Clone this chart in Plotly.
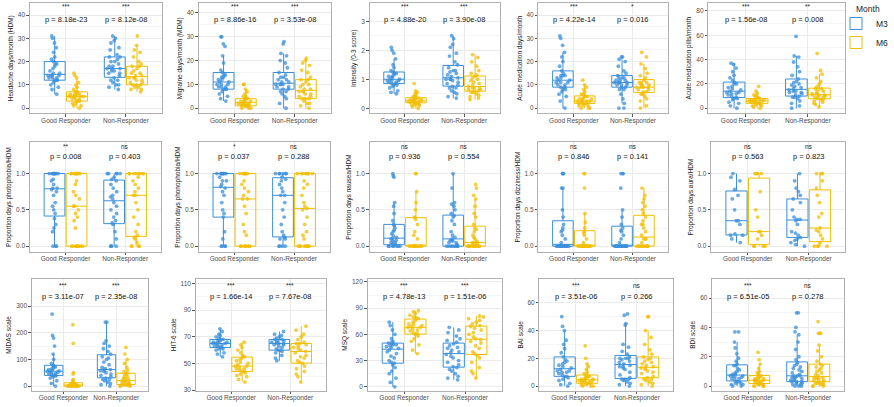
import plotly.graph_objects as go

# ---------------- data ----------------
CATS = ["Good Responder", "Non-Responder"]
MONTHS = ["M3", "M6"]

hdm_gr_m3 = [6, 8, 9, 10, 11, 12, 12, 12, 13, 13, 13, 14, 14, 14, 14, 15, 15, 16, 17, 18, 19, 19, 20, 21, 22, 24, 26, 28, 30, 31]
hdm_gr_m6 = [0, 1, 1, 2, 2, 3, 3, 3, 4, 4, 4, 5, 5, 5, 5, 5, 5, 6, 6, 6, 6, 7, 7, 8, 9, 10, 11, 13, 14, 15]
hdm_nr_m3 = [8, 9, 10, 10, 11, 12, 12, 13, 14, 15, 15, 16, 16, 17, 17, 17, 18, 18, 19, 20, 20, 21, 22, 22, 23, 25, 26, 28, 29, 30, 31]
hdm_nr_m6 = [7, 8, 8, 9, 9, 10, 10, 10, 11, 11, 12, 12, 13, 13, 13, 14, 14, 15, 15, 16, 17, 18, 18, 19, 20, 22, 24, 25, 27, 31]

mdm_gr_m3 = [3, 4, 5, 6, 7, 8, 8, 8, 9, 9, 9, 10, 10, 10, 11, 11, 12, 12, 13, 13, 14, 14, 15, 16, 19, 22, 26, 27, 30, 30]
mdm_gr_m6 = [0, 0, 0, 1, 1, 1, 1, 1, 2, 2, 2, 2, 2, 2, 2, 3, 3, 3, 3, 4, 4, 4, 4, 5, 5, 6, 7, 8, 10, 10]
mdm_nr_m3 = [0, 2, 4, 5, 6, 7, 7, 8, 8, 9, 9, 10, 10, 10, 10, 11, 11, 12, 12, 13, 13, 14, 15, 17, 19, 20, 22, 23, 27, 28]
mdm_nr_m6 = [0, 1, 2, 2, 3, 4, 4, 4, 5, 5, 6, 6, 7, 7, 7, 8, 8, 9, 10, 10, 11, 12, 12, 13, 15, 16, 18, 19, 20, 21]

int_gr_m3 = [0.5, 0.55, 0.6, 0.7, 0.75, 0.8, 0.8, 0.85, 0.85, 0.9, 0.9, 0.95, 0.95, 0.95, 1.0, 1.0, 1.05, 1.1, 1.1, 1.15, 1.2, 1.2, 1.25, 1.3, 1.4, 1.5, 1.7, 1.9, 2.0, 2.1]
int_gr_m6 = [0.0, 0.05, 0.1, 0.1, 0.15, 0.15, 0.15, 0.2, 0.2, 0.2, 0.2, 0.25, 0.25, 0.25, 0.25, 0.3, 0.3, 0.3, 0.3, 0.35, 0.35, 0.35, 0.4, 0.4, 0.45, 0.5, 0.55, 0.6, 0.85]
int_nr_m3 = [0.35, 0.4, 0.5, 0.55, 0.6, 0.7, 0.7, 0.75, 0.8, 0.85, 0.9, 0.95, 1.0, 1.0, 1.0, 1.05, 1.1, 1.15, 1.2, 1.25, 1.3, 1.3, 1.4, 1.5, 1.6, 1.8, 1.9, 2.1, 2.2, 2.4, 2.5]
int_nr_m6 = [0.3, 0.35, 0.4, 0.45, 0.5, 0.55, 0.55, 0.6, 0.6, 0.65, 0.65, 0.7, 0.7, 0.7, 0.75, 0.8, 0.85, 0.9, 0.95, 1.0, 1.05, 1.1, 1.15, 1.2, 1.3, 1.45, 1.6, 1.75, 1.85]

amd_gr_m3 = [0, 3, 5, 6, 7, 8, 8, 9, 9, 10, 10, 11, 11, 11, 12, 12, 13, 13, 14, 14, 14, 15, 16, 18, 20, 22, 24, 27, 30, 31]
amd_gr_m6 = [0, 0, 0, 1, 1, 1, 2, 2, 2, 2, 3, 3, 3, 3, 3, 4, 4, 4, 4, 5, 5, 5, 6, 6, 7, 8, 9, 10, 12]
amd_nr_m3 = [0, 0, 2, 4, 6, 8, 8, 9, 9, 10, 10, 10, 11, 11, 11, 11, 12, 12, 12, 13, 13, 13, 14, 15, 16, 18, 20, 21, 22, 22]
amd_nr_m6 = [0, 1, 3, 4, 5, 6, 6, 7, 7, 8, 8, 9, 9, 9, 9, 10, 10, 10, 11, 11, 11, 12, 13, 14, 15, 17, 19, 22, 24]

amp_gr_m3 = [0, 2, 4, 5, 7, 8, 8, 9, 10, 11, 12, 12, 13, 13, 14, 15, 16, 17, 18, 20, 20, 21, 23, 25, 27, 30, 33, 36, 37]
amp_gr_m6 = [0, 1, 2, 2, 3, 3, 4, 4, 5, 5, 5, 6, 6, 6, 6, 7, 7, 7, 8, 8, 8, 9, 10, 11, 12, 14, 18]
amp_nr_m3 = [0, 2, 4, 6, 8, 9, 9, 10, 11, 12, 13, 13, 14, 14, 15, 16, 17, 18, 19, 20, 21, 22, 24, 27, 30, 34, 38, 42, 43, 59]
amp_nr_m6 = [1, 3, 4, 5, 6, 7, 7, 8, 9, 9, 10, 10, 11, 11, 11, 12, 12, 13, 14, 15, 16, 16, 18, 20, 22, 25, 28, 31, 45]

pho_gr_m3 = [0, 0, 0, 0.2, 0.25, 0.3, 0.38, 0.45, 0.5, 0.55, 0.6, 0.7, 0.75, 0.78, 0.8, 0.8, 0.85, 0.9, 0.92, 1, 1, 1, 1, 1, 1, 1, 1, 1]
pho_gr_m6 = [0, 0, 0, 0, 0, 0, 0, 0, 0.25, 0.35, 0.4, 0.45, 0.5, 0.55, 0.55, 0.65, 0.7, 0.75, 0.85, 0.9, 1, 1, 1, 1, 1, 1, 1, 1, 1]
pho_nr_m3 = [0, 0, 0, 0, 0.1, 0.2, 0.3, 0.32, 0.35, 0.4, 0.45, 0.5, 0.55, 0.6, 0.65, 0.68, 0.7, 0.75, 0.8, 0.85, 0.9, 0.92, 0.95, 1, 1, 1, 1, 1]
pho_nr_m6 = [0, 0, 0, 0, 0.05, 0.1, 0.12, 0.15, 0.2, 0.3, 0.4, 0.5, 0.6, 0.7, 0.7, 0.75, 0.8, 0.85, 0.9, 0.95, 1, 1, 1, 1, 1, 1, 1, 1]

phn_gr_m3 = [0, 0, 0, 0, 0.1, 0.2, 0.4, 0.45, 0.5, 0.6, 0.7, 0.75, 0.8, 0.82, 0.85, 0.9, 0.9, 0.95, 1, 1, 1, 1, 1, 1, 1, 1]
phn_gr_m6 = [0, 0, 0, 0, 0, 0, 0, 0.15, 0.2, 0.3, 0.45, 0.55, 0.65, 0.65, 0.7, 0.75, 0.8, 0.85, 0.9, 1, 1, 1, 1, 1, 1, 1]
phn_nr_m3 = [0, 0, 0, 0, 0.1, 0.1, 0.12, 0.15, 0.2, 0.3, 0.4, 0.5, 0.6, 0.7, 0.7, 0.75, 0.8, 0.85, 0.9, 0.92, 0.95, 1, 1, 1, 1, 1, 1]
phn_nr_m6 = [0, 0, 0, 0, 0, 0, 0, 0, 0.1, 0.15, 0.2, 0.3, 0.4, 0.5, 0.52, 0.55, 0.6, 0.7, 0.8, 0.85, 0.9, 1, 1, 1, 1, 1, 1, 1, 1]

nau_gr_m3 = [0, 0, 0, 0, 0, 0, 0, 0.02, 0.03, 0.05, 0.05, 0.07, 0.08, 0.1, 0.1, 0.12, 0.14, 0.17, 0.2, 0.22, 0.25, 0.28, 0.3, 0.35, 0.45, 0.55, 0.6, 0.95, 0.97, 1.0]
nau_gr_m6 = [0, 0, 0, 0, 0, 0, 0, 0, 0, 0, 0, 0, 0.1, 0.15, 0.2, 0.3, 0.37, 0.4, 0.5, 0.6, 0.75, 1, 1]
nau_nr_m3 = [0, 0, 0, 0, 0, 0, 0, 0, 0.02, 0.05, 0.05, 0.07, 0.08, 0.08, 0.1, 0.12, 0.15, 0.2, 0.3, 0.35, 0.4, 0.42, 0.45, 0.5, 0.55, 0.58, 0.6, 0.8, 1.0]
nau_nr_m6 = [0, 0, 0, 0, 0, 0, 0, 0, 0, 0, 0, 0, 0.02, 0.03, 0.05, 0.05, 0.05, 0.07, 0.1, 0.12, 0.15, 0.2, 0.23, 0.25, 0.3, 0.4, 0.45, 0.55, 0.65, 0.7, 0.8, 0.85]

diz_gr_m3 = [0, 0, 0, 0, 0, 0, 0, 0, 0, 0, 0, 0, 0, 0, 0.05, 0.1, 0.15, 0.2, 0.22, 0.25, 0.3, 0.4, 0.5, 0.8, 0.8, 1, 1, 1]
diz_gr_m6 = [0, 0, 0, 0, 0, 0, 0, 0, 0, 0, 0, 0, 0, 0, 0.05, 0.1, 0.15, 0.18, 0.2, 0.25, 0.33, 0.45, 0.8, 1, 1]
diz_nr_m3 = [0, 0, 0, 0, 0, 0, 0, 0, 0, 0, 0, 0, 0, 0, 0, 0.05, 0.1, 0.15, 0.2, 0.22, 0.25, 0.3, 0.4, 0.5, 0.8, 1, 1, 1]
diz_nr_m6 = [0, 0, 0, 0, 0, 0, 0, 0, 0, 0, 0.05, 0.1, 0.1, 0.1, 0.15, 0.2, 0.25, 0.3, 0.3, 0.35, 0.4, 0.45, 0.5, 0.55, 0.6, 0.65, 0.7, 0.8]

aur_gr_m3 = [0.05, 0.1, 0.15, 0.15, 0.17, 0.3, 0.35, 0.35, 0.5, 0.65, 0.7, 0.78, 0.9, 0.95, 1.0]
aur_gr_m6 = [0, 0, 0, 0, 0.1, 0.15, 0.2, 0.2, 0.4, 0.5, 0.75, 1, 1, 1, 1]
aur_nr_m3 = [0, 0.02, 0.05, 0.08, 0.1, 0.12, 0.15, 0.18, 0.2, 0.3, 0.35, 0.37, 0.37, 0.4, 0.5, 0.6, 0.65, 0.7, 0.75, 0.8, 0.9, 1.0]
aur_nr_m6 = [0, 0, 0, 0, 0.05, 0.1, 0.15, 0.2, 0.22, 0.25, 0.4, 0.45, 0.6, 0.7, 0.8, 0.9, 1, 1, 1]

mid_gr_m3 = [0, 10, 20, 30, 35, 38, 40, 40, 42, 45, 48, 50, 52, 55, 55, 57, 60, 62, 65, 68, 72, 75, 78, 85, 100, 120, 150, 180, 190, 270]
mid_gr_m6 = [0, 0, 0, 0, 0, 0, 0, 0, 1, 2, 2, 3, 3, 3, 4, 5, 5, 6, 8, 10, 10, 12, 15, 20, 25, 45, 50, 160, 230]
mid_nr_m3 = [0, 5, 10, 15, 20, 25, 25, 30, 35, 40, 45, 50, 55, 58, 60, 62, 65, 70, 80, 90, 100, 105, 110, 120, 130, 140, 150, 160, 170, 240, 240]
mid_nr_m6 = [0, 0, 0, 2, 3, 5, 5, 6, 8, 10, 12, 15, 18, 20, 20, 22, 25, 28, 30, 35, 40, 45, 48, 55, 60, 70, 85, 100, 120, 145]

hit_gr_m3 = [55, 57, 58, 60, 61, 61, 62, 62, 63, 63, 64, 64, 65, 65, 65, 66, 66, 66, 67, 67, 68, 68, 69, 70, 71, 72, 74, 76]
hit_gr_m6 = [36, 38, 40, 41, 42, 43, 44, 44, 45, 46, 46, 47, 48, 48, 49, 50, 51, 52, 53, 54, 55, 56, 58, 60, 62, 64, 66]
hit_nr_m3 = [52, 54, 56, 58, 59, 60, 60, 61, 62, 63, 64, 64, 65, 65, 65, 66, 66, 67, 67, 68, 68, 69, 70, 71, 72, 74]
hit_nr_m6 = [36, 40, 42, 44, 46, 48, 50, 51, 52, 54, 55, 56, 58, 59, 60, 61, 62, 63, 64, 65, 65, 66, 68, 70, 72, 75, 78]

msq_gr_m3 = [0, 5, 10, 15, 18, 22, 25, 27, 28, 30, 33, 35, 38, 40, 42, 44, 45, 46, 47, 48, 48, 49, 50, 50, 52, 55, 60, 65, 70, 74]
msq_gr_m6 = [38, 42, 48, 52, 55, 58, 60, 61, 62, 64, 65, 66, 68, 68, 69, 70, 71, 72, 74, 76, 78, 79, 80, 82, 84, 86, 87]
msq_nr_m3 = [8, 10, 12, 15, 18, 20, 22, 23, 25, 28, 30, 33, 35, 37, 39, 40, 42, 44, 45, 47, 49, 51, 53, 55, 58, 62, 65, 68]
msq_nr_m6 = [10, 15, 18, 22, 28, 33, 36, 38, 40, 44, 47, 50, 52, 54, 55, 57, 60, 62, 65, 67, 69, 70, 72, 74, 76, 78, 80, 81]

bai_gr_m3 = [0, 1, 2, 4, 5, 6, 7, 7, 8, 9, 10, 10, 11, 11, 12, 13, 14, 15, 16, 17, 18, 19, 21, 24, 27, 30, 33, 40, 43, 50]
bai_gr_m6 = [0, 0, 0, 1, 1, 2, 2, 2, 3, 3, 3, 4, 4, 4, 4, 5, 5, 5, 6, 6, 7, 7, 8, 9, 10, 12, 14, 16, 20, 29]
bai_nr_m3 = [0, 1, 2, 3, 4, 5, 5, 5, 6, 8, 10, 12, 13, 14, 14, 15, 16, 17, 18, 19, 20, 20, 20, 21, 23, 25, 28, 30, 44, 45, 51, 52]
bai_nr_m6 = [0, 1, 2, 3, 4, 5, 5, 6, 7, 9, 10, 11, 12, 13, 13, 14, 15, 16, 17, 18, 19, 20, 21, 23, 26, 30, 35, 40, 50, 50]

bdi_gr_m3 = [0, 0, 1, 1, 2, 2, 3, 3, 4, 5, 5, 6, 6, 7, 7, 7, 8, 8, 9, 10, 11, 12, 14, 14, 15, 17, 19, 22, 26, 30, 37, 37]
bdi_gr_m6 = [0, 0, 0, 0, 1, 1, 1, 2, 2, 3, 3, 3, 4, 4, 4, 5, 5, 5, 6, 6, 7, 7, 8, 9, 10, 12, 15, 18, 23]
bdi_nr_m3 = [0, 0, 0, 1, 1, 2, 2, 3, 3, 3, 4, 4, 5, 5, 6, 6, 7, 7, 7, 8, 9, 10, 11, 12, 13, 14, 15, 16, 18, 20, 25, 30, 35, 37, 40, 50, 50]
bdi_nr_m6 = [0, 0, 0, 1, 1, 2, 2, 2, 3, 3, 4, 4, 5, 5, 6, 6, 6, 7, 8, 9, 10, 11, 12, 13, 14, 15, 17, 20, 24, 28, 36, 36, 36, 44]

y_titles = [
    "Headache days/month (HDM)", "Migraine days/month (MDM)", "Intensity (0-3 score)",
    "Acute medication days/month", "Acute medication pills/month",
    "Proportion days photophobia/HDM", "Proportion days phonophobia/HDM", "Proportion days nausea/HDM",
    "Proportion days dizziness/HDM", "Proportion days aura/HDM",
    "MIDAS scale", "HIT-6 scale", "MSQ scale", "BAI scale", "BDI scale",
]
stars = [
    ["***", "***"], ["***", "***"], ["***", "***"], ["***", "*"], ["***", "**"],
    ["**", "ns"], ["*", "ns"], ["ns", "ns"], ["ns", "ns"], ["ns", "ns"],
    ["***", "***"], ["***", "***"], ["***", "***"], ["***", "ns"], ["***", "ns"],
]
p_labels = [
    ["p = 8.18e-23", "p = 8.12e-08"], ["p = 8.86e-16", "p = 3.53e-08"], ["p = 4.88e-20", "p = 3.90e-08"],
    ["p = 4.22e-14", "p = 0.016"], ["p = 1.56e-08", "p = 0.008"],
    ["p = 0.008", "p = 0.403"], ["p = 0.037", "p = 0.288"], ["p = 0.936", "p = 0.554"],
    ["p = 0.846", "p = 0.141"], ["p = 0.563", "p = 0.823"],
    ["p = 3.11e-07", "p = 2.35e-08"], ["p = 1.66e-14", "p = 7.67e-08"], ["p = 4.78e-13", "p = 1.51e-06"],
    ["p = 3.51e-06", "p = 0.266"], ["p = 6.51e-05", "p = 0.278"],
]
y_ticks = [
    [0, 10, 20, 30, 40], [0, 10, 20, 30, 40], [0, 1, 2, 3], [0, 10, 20, 30, 40], [0, 20, 40, 60, 80],
    [0, 0.5, 1.0], [0, 0.5, 1.0], [0, 0.5, 1.0], [0, 0.5, 1.0], [0, 0.5, 1.0],
    [0, 100, 200, 300], [30, 50, 70, 90, 110], [0, 30, 60, 90, 120], [0, 20, 40, 60], [0, 20, 40, 60],
]
y_ticktext = [
    None, None, None, None, None,
    ["0.0", "0.5", "1.0"], ["0.0", "0.5", "1.0"], ["0.0", "0.5", "1.0"], ["0.0", "0.5", "1.0"], ["0.0", "0.5", "1.0"],
    None, None, None, None, None,
]

panel_data = [
    [[hdm_gr_m3, hdm_gr_m6], [hdm_nr_m3, hdm_nr_m6]],
    [[mdm_gr_m3, mdm_gr_m6], [mdm_nr_m3, mdm_nr_m6]],
    [[int_gr_m3, int_gr_m6], [int_nr_m3, int_nr_m6]],
    [[amd_gr_m3, amd_gr_m6], [amd_nr_m3, amd_nr_m6]],
    [[amp_gr_m3, amp_gr_m6], [amp_nr_m3, amp_nr_m6]],
    [[pho_gr_m3, pho_gr_m6], [pho_nr_m3, pho_nr_m6]],
    [[phn_gr_m3, phn_gr_m6], [phn_nr_m3, phn_nr_m6]],
    [[nau_gr_m3, nau_gr_m6], [nau_nr_m3, nau_nr_m6]],
    [[diz_gr_m3, diz_gr_m6], [diz_nr_m3, diz_nr_m6]],
    [[aur_gr_m3, aur_gr_m6], [aur_nr_m3, aur_nr_m6]],
    [[mid_gr_m3, mid_gr_m6], [mid_nr_m3, mid_nr_m6]],
    [[hit_gr_m3, hit_gr_m6], [hit_nr_m3, hit_nr_m6]],
    [[msq_gr_m3, msq_gr_m6], [msq_nr_m3, msq_nr_m6]],
    [[bai_gr_m3, bai_gr_m6], [bai_nr_m3, bai_nr_m6]],
    [[bdi_gr_m3, bdi_gr_m6], [bdi_nr_m3, bdi_nr_m6]],
]

# ---------------- layout / style ----------------
W, H = 894, 407
FONT = "Liberation Sans, Arial, sans-serif"
COLORS = {"M3": "#3A8FDB", "M6": "#F2BE00"}
MARKER = {"M3": "rgba(58,143,219,0.75)", "M6": "rgba(242,190,0,0.75)"}

y_ranges = [
    [-2.3, 45.2], [-2.2, 44.2], [-0.18, 3.63], [-2.3, 45.2], [-4.3, 86.5],
    [-0.077, 1.43], [-0.077, 1.43], [-0.077, 1.43], [-0.077, 1.43], [-0.077, 1.43],
    [-18.6, 403], [29.25, 113.7], [-4.9, 123.8], [-3.6, 77.4], [-3.4, 73.3],
]
x_px = [
    [(30, 163), (200, 333), (372, 503), (542, 673), (713, 851)],
    [(30, 162), (200, 332), (372, 503), (542, 673), (716, 851)],
    [(32, 149), (197, 328), (370, 505), (543, 678), (717, 850)],
]
y_px = [(3, 114), (143, 253), (280, 393)]
star_y = [0.972, 0.965, 0.94]
p_y = [0.847, 0.87, 0.84]

fig = go.Figure()
layout = {}
annotations = []
for i in range(15):
    row, col = divmod(i, 5)
    sfx = "" if i == 0 else str(i + 1)
    for m_idx, m in enumerate(MONTHS):
        xs, ys = [], []
        for c_idx, c in enumerate(CATS):
            vals = panel_data[i][c_idx][m_idx]
            xs += [c] * len(vals)
            ys += vals
        fig.add_trace(go.Box(
            x=xs, y=ys, name=m, legendgroup=m, showlegend=(i == 0), offsetgroup=m,
            xaxis="x" + sfx, yaxis="y" + sfx,
            boxpoints="all", jitter=0.75, pointpos=0,
            marker=dict(color=MARKER[m], size=3.8),
            line=dict(color=COLORS[m], width=1),
            fillcolor="rgba(255,255,255,0)",
            whiskerwidth=0,
        ))
    x0, x1 = x_px[row][col]
    yt, yb = y_px[row]
    ticks = y_ticks[i]
    minor_vals = [(a + b) / 2 for a, b in zip(ticks[:-1], ticks[1:])]
    layout["xaxis" + sfx] = dict(
        domain=[x0 / W, x1 / W], anchor="y" + sfx, type="category",
        categoryorder="array", categoryarray=CATS, range=[-0.6, 1.6],
        showline=True, mirror=True, linecolor="#b0b0b0", linewidth=0.8,
        showgrid=True, gridcolor="#ebebeb", gridwidth=0.6, zeroline=False,
        ticks="outside", ticklen=2.5, tickcolor="#555555", tickwidth=0.6,
        ticklabelstandoff=-2,
        tickfont=dict(size=6.5, color="#4d4d4d", family=FONT),
    )
    layout["yaxis" + sfx] = dict(
        domain=[1 - yb / H, 1 - yt / H], anchor="x" + sfx,
        range=y_ranges[i], tickmode="array", tickvals=ticks,
        ticktext=y_ticktext[i] if y_ticktext[i] else [str(t) for t in ticks],
        showline=True, mirror=True, linecolor="#b0b0b0", linewidth=0.8,
        showgrid=True, gridcolor="#ebebeb", gridwidth=0.6, zeroline=False,
        minor=dict(tickmode="array", tickvals=minor_vals, showgrid=True, gridcolor="#f5f5f5", gridwidth=0.5, ticks=""),
        ticks="outside", ticklen=2.5, tickcolor="#555555", tickwidth=0.6,
        tickfont=dict(size=6.5, color="#4d4d4d", family=FONT),
        title=dict(text=y_titles[i], font=dict(size=6.5, color="#1a1a1a", family=FONT), standoff=3),
    )
    for c_idx, c in enumerate(CATS):
        annotations.append(dict(
            xref="x" + sfx, yref="y" + sfx + " domain", x=c, y=star_y[row],
            text=stars[i][c_idx], showarrow=False, yanchor="middle",
            font=dict(size=6.5, color="#222222", family=FONT),
        ))
        annotations.append(dict(
            xref="x" + sfx, yref="y" + sfx + " domain", x=c, y=p_y[row],
            text=p_labels[i][c_idx], showarrow=False, yanchor="middle",
            font=dict(size=7.5, color="#111111", family=FONT),
        ))

# legend title drawn as text above the legend keys
annotations.append(dict(
    xref="paper", yref="paper", x=860 / W, y=1 - 9 / H, xanchor="left", yanchor="middle",
    text="Month", showarrow=False, font=dict(size=8.5, color="#222222", family=FONT),
))

fig.update_layout(
    width=W, height=H, margin=dict(l=0, r=0, t=0, b=0),
    paper_bgcolor="white", plot_bgcolor="white",
    boxmode="group", boxgap=0.26, boxgroupgap=0.06,
    font=dict(family=FONT, size=7),
    annotations=annotations,
    legend=dict(
        x=842 / W, y=1 - 9 / H, xanchor="left", yanchor="top",
        font=dict(size=8.5, color="#222222"), bgcolor="rgba(0,0,0,0)",
        tracegroupgap=0, itemwidth=30,
    ),
    showlegend=True,
    **layout,
)

fig.write_html(
    "out.html",
    config={"displayModeBar": False},
    post_script="document.body.style.margin='0';document.body.style.padding='0';",
)
